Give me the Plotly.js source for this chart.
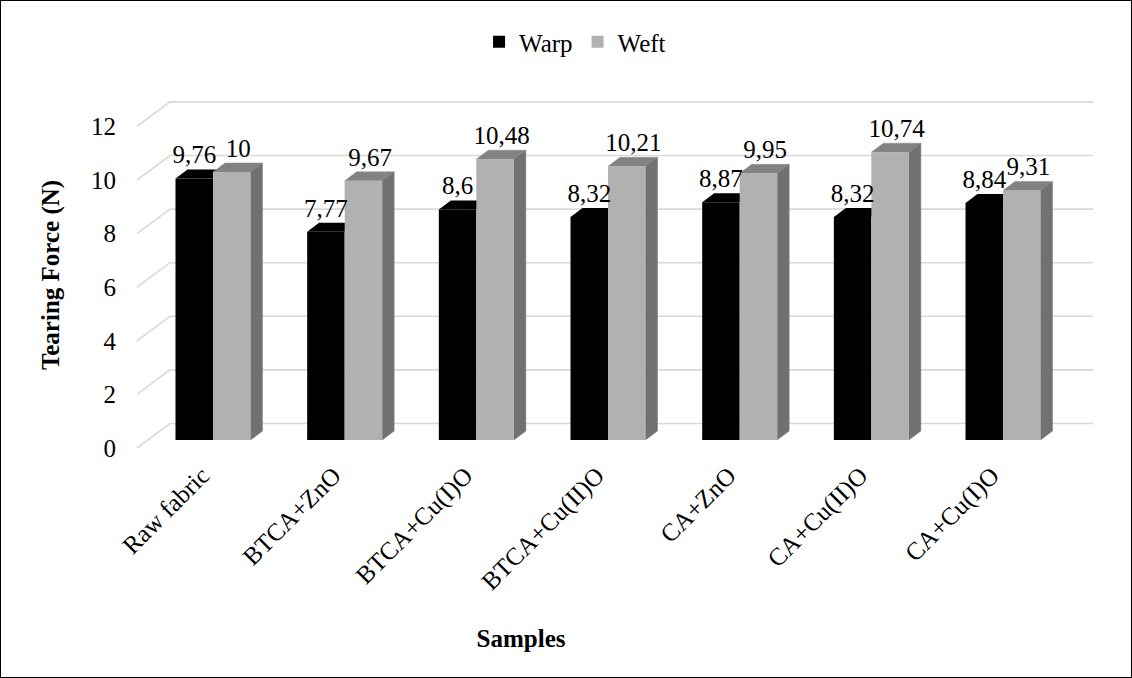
<!DOCTYPE html>
<html>
<head>
<meta charset="utf-8">
<script src="https://cdn.plot.ly/plotly-3.0.1.min.js"></script>
<style>
  html, body { margin: 0; padding: 0; background: #fff; }
  #wrap { position: relative; width: 1132px; height: 678px; }
  #chart { width: 1132px; height: 678px; }
  #frame { position: absolute; left: 0; top: 0; width: 1130px; height: 676px; border: 1px solid #000; pointer-events: none; }
</style>
</head>
<body>
<div id="wrap"><div id="chart"></div><div id="frame"></div></div>
<script>
// ---- data ----
var categories = ["Raw fabric", "BTCA+ZnO", "BTCA+Cu(I)O", "BTCA+Cu(II)O", "CA+ZnO", "CA+Cu(II)O", "CA+Cu(I)O"];
var warp = [9.76, 7.77, 8.6, 8.32, 8.87, 8.32, 8.84];
var weft = [10, 9.67, 10.48, 10.21, 9.95, 10.74, 9.31];
var yTicks = [0, 2, 4, 6, 8, 10, 12];

// ---- geometry (pixels -> axis units) ----
var L = 137, R = 1093, T = 95, B = 455;
var pxPerY = 26.8, pxPerX = 131.67;
var frontZero = 448, barZero = 440, groupX0 = 213;
var yRange = [-(B - frontZero) / pxPerY, (frontZero - T) / pxPerY];
var y2Range = [-(B - barZero) / pxPerY, (barZero - T) / pxPerY];
var xRange = [(L - groupX0) / pxPerX, (R - groupX0) / pxPerX];
var barW = 37.5 / pxPerX;
var dX = 12 / pxPerX, dY = 9 / pxPerY;
var wallDX = 33 / (R - L), wallDY = 24.5 / pxPerY;
var labelShift = 11 / pxPerX;

var idx = categories.map(function (_, i) { return i; });
var fmt = function (v) { return String(v).replace('.', ','); };

var shapes = [];
yTicks.forEach(function (v) {
  shapes.push({ type: 'path', xref: 'paper', yref: 'y', layer: 'below',
    path: 'M0,' + v + ' L' + wallDX + ',' + (v + wallDY) + ' L1,' + (v + wallDY),
    line: { color: '#d9d9d9', width: 1.6 } });
});
idx.forEach(function (i) {
  var a = i - barW, b = i, c = i + barW;
  var h1 = warp[i], h2 = weft[i];
  shapes.push({ type: 'path', xref: 'x', yref: 'y2', layer: 'below',
    path: 'M' + a + ',' + h1 + ' L' + b + ',' + h1 + ' L' + (b + dX) + ',' + (h1 + dY) + ' L' + (a + dX) + ',' + (h1 + dY) + ' Z',
    fillcolor: '#000000', line: { width: 0 } });
  shapes.push({ type: 'path', xref: 'x', yref: 'y2', layer: 'below',
    path: 'M' + b + ',' + h2 + ' L' + c + ',' + h2 + ' L' + (c + dX) + ',' + (h2 + dY) + ' L' + (b + dX) + ',' + (h2 + dY) + ' Z',
    fillcolor: '#828282', line: { color: '#8c8c8c', width: 0.5 } });
  shapes.push({ type: 'path', xref: 'x', yref: 'y2', layer: 'below',
    path: 'M' + c + ',0 L' + c + ',' + h2 + ' L' + (c + dX) + ',' + (h2 + dY) + ' L' + (c + dX) + ',' + dY + ' Z',
    fillcolor: '#717171', line: { color: '#7a7a7a', width: 0.5 } });
});

var font = '"Liberation Serif", serif';

var traces = [
  { type: 'bar', name: 'Warp', x: idx, y: warp, width: barW, offset: -barW, yaxis: 'y2',
    marker: { color: '#000000', line: { width: 0 } }, hoverinfo: 'skip' },
  { type: 'bar', name: 'Weft', x: idx, y: weft, width: barW, offset: 0, yaxis: 'y2',
    marker: { color: '#b1b1b1', line: { width: 0 } }, hoverinfo: 'skip' },
  { type: 'scatter', mode: 'text', showlegend: false, hoverinfo: 'skip', yaxis: 'y2',
    x: idx.map(function (i) { return i - barW / 2; }), y: warp.map(function (v) { return v + dY; }),
    text: warp.map(fmt), textposition: 'top center', textfont: { family: font, size: 25, color: '#000' } },
  { type: 'scatter', mode: 'text', showlegend: false, hoverinfo: 'skip', yaxis: 'y2',
    x: idx.map(function (i) { return i + barW / 2 + 0.05; }), y: weft.map(function (v) { return v + dY; }),
    text: weft.map(fmt), textposition: 'top center', textfont: { family: font, size: 25, color: '#000' } },
  { type: 'scatter', mode: 'markers', x: [], y: [], xaxis: 'x2', showlegend: false, hoverinfo: 'skip' }
];

var titleCenterPx = 521;
var tc = (titleCenterPx - L) / (R - L);

var layout = {
  width: 1132, height: 678,
  margin: { l: L, r: 1132 - R, t: T, b: 678 - B },
  paper_bgcolor: '#ffffff', plot_bgcolor: 'rgba(0,0,0,0)',
  font: { family: font, size: 25, color: '#000' },
  barmode: 'overlay',
  showlegend: true,
  legend: { orientation: 'h', xref: 'container', yref: 'container', x: 0.508, y: 1 - 42 / 678,
    xanchor: 'center', yanchor: 'middle', font: { family: font, size: 25, color: '#000' }, traceorder: 'normal' },
  xaxis: { range: xRange, tickvals: idx.map(function (i) { return i - labelShift; }), ticktext: categories, tickangle: -45,
    showgrid: false, zeroline: false, showline: false, ticks: '', fixedrange: true,
    tickfont: { family: font, size: 25, color: '#000' } },
  xaxis2: { domain: [tc - 0.1, tc + 0.1], anchor: 'y', range: [0, 1], showgrid: false, zeroline: false,
    showline: false, ticks: '', showticklabels: false,
    title: { text: 'Samples', font: { family: font, size: 25, weight: 'bold', color: '#000' }, standoff: 174 } },
  yaxis: { range: yRange, tickvals: yTicks, showgrid: false, zeroline: false, showline: false,
    ticks: 'outside', ticklen: 15, tickcolor: 'rgba(0,0,0,0)', tickfont: { family: font, size: 25, color: '#000' },
    title: { text: 'Tearing Force (N)', font: { family: font, size: 25, weight: 'bold', color: '#000' }, standoff: 24 } },
  yaxis2: { range: y2Range, overlaying: 'y', visible: false },
  shapes: shapes
};

Plotly.newPlot('chart', traces, layout, { staticPlot: true, displayModeBar: false });
</script>
</body>
</html>
